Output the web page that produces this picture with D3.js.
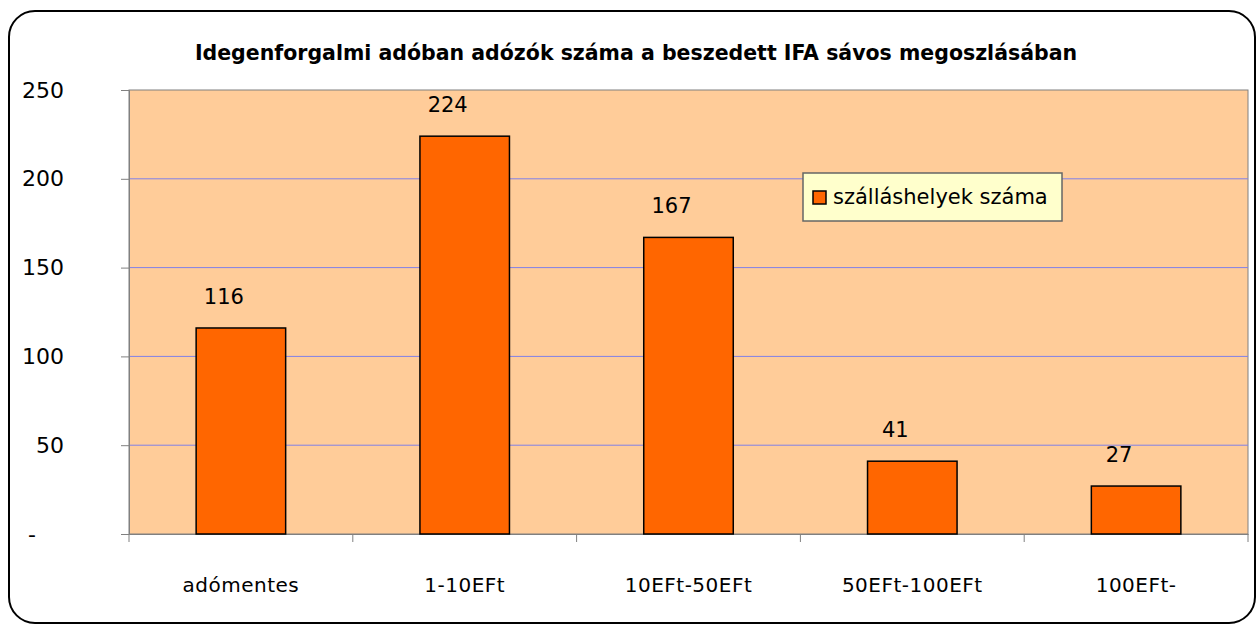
<!DOCTYPE html>
<html>
<head>
<meta charset="utf-8">
<script src="https://cdn.jsdelivr.net/npm/d3@7"></script>
<style>
  body { margin: 0; background: #fff; }
  text { font-family: "Comic Sans MS", "DejaVu Sans", sans-serif; fill: #000; }
</style>
</head>
<body>
<div id="chart"></div>
<script>
const categories = ["adómentes", "1-10EFt", "10EFt-50EFt", "50EFt-100EFt", "100EFt-"]
const values = [116, 224, 167, 41, 27]
const yTicks = [0, 50, 100, 150, 200, 250]
const seriesName = "szálláshelyek száma"
const title = "Idegenforgalmi adóban adózók száma a beszedett IFA sávos megoszlásában"

const W = 1258, H = 626
const PLOT = {LEFT: 129, RIGHT: 1248, TOP: 90, BOTTOM: 534}

const svg = d3.select("#chart").append("svg")
    .attr("width", W)
    .attr("height", H)

// outer frame
svg.append("rect")
    .attr("x", 9).attr("y", 11)
    .attr("width", 1246).attr("height", 612)
    .attr("rx", 26).attr("ry", 26)
    .attr("fill", "#fff")
    .attr("stroke", "#000")
    .attr("stroke-width", 2)

svg.append("text")
    .attr("x", 636).attr("y", 60)
    .attr("text-anchor", "middle")
    .attr("font-weight", "bold")
    .attr("font-size", 20.5)
    .text(title)

const x = d3.scaleBand()
    .domain(categories)
    .range([PLOT.LEFT, PLOT.RIGHT])
    .paddingInner(0.6)
    .paddingOuter(0.3)

const xCat = d3.scaleBand()
    .domain(categories)
    .range([PLOT.LEFT, PLOT.RIGHT])

const y = d3.scaleLinear()
    .domain([0, 250])
    .range([PLOT.BOTTOM, PLOT.TOP])

// plot background
svg.append("rect")
    .attr("x", PLOT.LEFT).attr("y", PLOT.TOP)
    .attr("width", PLOT.RIGHT - PLOT.LEFT)
    .attr("height", PLOT.BOTTOM - PLOT.TOP)
    .attr("fill", "#ffcc99")
    .attr("stroke", "#808080")
    .attr("stroke-width", 1)

// gridlines
svg.append("g")
    .selectAll("line")
    .data(yTicks.filter(d => d > 0 && d < 250))
    .join("line")
    .attr("x1", PLOT.LEFT).attr("x2", PLOT.RIGHT)
    .attr("y1", d => y(d)).attr("y2", d => y(d))
    .attr("stroke", "#8080e8")
    .attr("stroke-width", 1)

// y axis
const yAxis = svg.append("g")
    .attr("transform", `translate(${PLOT.LEFT},0)`)
    .call(d3.axisLeft(y).tickValues(yTicks).tickSize(8).tickFormat(d => d === 0 ? "-" : d))
yAxis.select(".domain").attr("stroke", "#808080")
yAxis.selectAll(".tick line").attr("stroke", "#808080")
yAxis.selectAll(".tick text")
    .attr("x", -65)
    .attr("font-size", 22)
    .attr("text-anchor", "end")
    .attr("dx", d => d === 0 ? -28 : 0)

// x axis
const xAxis = svg.append("g")
    .attr("transform", `translate(0,${PLOT.BOTTOM})`)
    .call(d3.axisBottom(xCat).tickSize(0).tickFormat(""))
xAxis.select(".domain").attr("stroke", "#808080")
xAxis.selectAll(".tick").remove()
xAxis.selectAll(".sep")
    .data(d3.range(categories.length + 1))
    .join("line")
    .attr("class", "sep")
    .attr("x1", i => PLOT.LEFT + i * xCat.step())
    .attr("x2", i => PLOT.LEFT + i * xCat.step())
    .attr("y1", 0).attr("y2", 8)
    .attr("stroke", "#808080")

svg.append("g")
    .selectAll("text")
    .data(categories)
    .join("text")
    .attr("x", d => xCat(d) + xCat.bandwidth() / 2)
    .attr("y", 592)
    .attr("text-anchor", "middle")
    .attr("font-size", 20)
    .attr("letter-spacing", 0.5)
    .text(d => d)

// bars
svg.append("g")
    .selectAll("rect")
    .data(values)
    .join("rect")
    .attr("x", (d, i) => x(categories[i]))
    .attr("y", d => y(d))
    .attr("width", x.bandwidth())
    .attr("height", d => y(0) - y(d))
    .attr("fill", "#ff6600")
    .attr("stroke", "#000")
    .attr("stroke-width", 1.5)

svg.append("g")
    .selectAll("text")
    .data(values)
    .join("text")
    .attr("x", (d, i) => x(categories[i]) + x.bandwidth() / 2 - 17)
    .attr("y", d => y(d) - 24)
    .attr("text-anchor", "middle")
    .attr("font-size", 21)
    .text(d => d)

// legend
const legend = svg.append("g").attr("transform", "translate(803,173)")
legend.append("rect")
    .attr("width", 259).attr("height", 48)
    .attr("fill", "#ffffcc")
    .attr("stroke", "#666")
    .attr("stroke-width", 1.5)
legend.append("rect")
    .attr("x", 10).attr("y", 18)
    .attr("width", 13).attr("height", 13)
    .attr("fill", "#ff6600")
    .attr("stroke", "#000")
    .attr("stroke-width", 1.5)
legend.append("text")
    .attr("x", 30).attr("y", 31)
    .attr("font-size", 21)
    .text(seriesName)
</script>
</body>
</html>
